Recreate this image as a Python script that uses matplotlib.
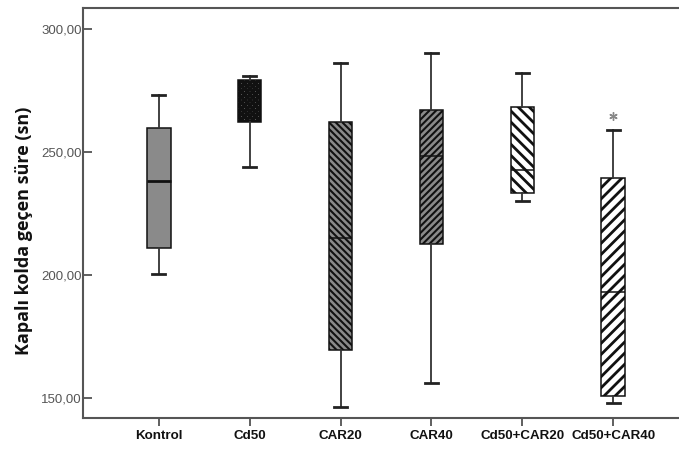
import matplotlib
matplotlib.use("Agg")
import matplotlib.pyplot as plt
from matplotlib.ticker import FuncFormatter

# Groups and five-number summaries (seconds spent in the closed arm)
groups = ["Kontrol", "Cd50", "CAR20", "CAR40", "Cd50+CAR20", "Cd50+CAR40"]
whisker_low = [200.4, 244.1, 146.3, 156.2, 230.1, 148.2]
q1 = [211.2, 262.0, 169.6, 212.8, 233.3, 151.1]
median = [238.3, 275.0, 215.2, 248.5, 242.7, 193.3]
q3 = [259.7, 279.3, 262.1, 267.2, 268.4, 239.4]
whisker_high = [273.2, 281.0, 286.1, 290.1, 282.1, 259.0]
extremes = [[], [], [], [], [], [264.8]]
y_ticks = [150, 200, 250, 300]

# Fill styles per group: (face colour, hatch, hatch line width)
styles = [
    ("#8a8a8a", None, 1.0),
    ("#7a7a7a", "xxxxxx", 2.2),
    ("#8a8a8a", "\\\\\\\\\\", 1.5),
    ("#8a8a8a", "/////", 1.5),
    ("#ffffff", "\\\\\\", 2.0),
    ("#ffffff", "///", 2.0),
]

fig = plt.figure(figsize=(6.79, 4.5), dpi=100)
# the frame runs past the right edge of the figure
right_px = 688.7
ax = fig.add_axes([83.3 / 679, 32.3 / 450, (right_px - 83.3) / 679, (417.7 - 8) / 450])

positions = list(range(len(groups)))
for i, g in enumerate(groups):
    stats = [dict(label=g, whislo=whisker_low[i], q1=q1[i], med=median[i],
                  q3=q3[i], whishi=whisker_high[i], fliers=extremes[i])]
    face, hatch, hlw = styles[i]
    with plt.rc_context({"hatch.linewidth": hlw, "hatch.color": "black"}):
        res = ax.bxp(stats, positions=[i], widths=0.26, capwidths=0.14,
                     patch_artist=True, manage_ticks=False,
                     boxprops=dict(facecolor=face, edgecolor="#111111", linewidth=1.1),
                     whiskerprops=dict(color="#333333", linewidth=1.3),
                     capprops=dict(color="#222222", linewidth=2.0),
                     medianprops=dict(color="#111111",
                                      linewidth=2.0 if i == 0 else 1.1),
                     flierprops=dict(marker=(6, 2, 0), markersize=6,
                                     markeredgecolor="#888888",
                                     markerfacecolor="#888888",
                                     markeredgewidth=1.0, linestyle="none"))
        for b in res["boxes"]:
            if hatch:
                b.set_hatch(hatch)
            if hasattr(b, "set_hatch_linewidth"):
                b.set_hatch_linewidth(hlw)

ax.set_xlim(-0.83, 5.83)
ax.set_ylim(142.1, 308.5)

ax.set_xticks(positions)
ax.set_xticklabels(groups, fontsize=9.6, fontweight="bold",
                   family="Liberation Sans", color="#111111")
ax.set_yticks(y_ticks)
ax.yaxis.set_major_formatter(FuncFormatter(lambda v, p: f"{v:.2f}".replace(".", ",")))
for t in ax.get_yticklabels():
    t.set_family("Liberation Sans")
    t.set_fontsize(9.5)
    t.set_color("#555555")

ax.tick_params(axis="x", direction="out", length=6, width=1.2,
               color="#444444", pad=3)
ax.tick_params(axis="y", direction="in", length=6.5, width=1.2,
               color="#444444", pad=1)

for side in ("left", "bottom", "top"):
    ax.spines[side].set_color("#555555")
    ax.spines[side].set_linewidth(1.5)
ax.spines["right"].set_visible(False)

ax.set_ylabel("Kapalı kolda geçen süre (sn)", fontsize=13.0, fontweight="bold",
              family="Open Sans", color="#111111")
ax.yaxis.set_label_coords(-0.083, 0.456)

fig.savefig("out.png", dpi=100)
